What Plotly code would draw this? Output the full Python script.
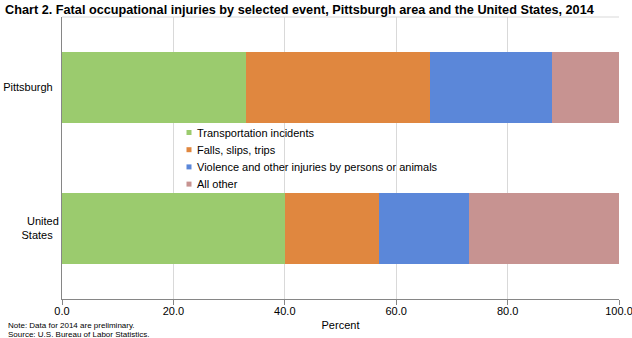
import plotly.graph_objects as go

# Data: share of fatal occupational injuries by event, 2014 (percent)
areas = ["Pittsburgh", "United<br>States"]
events = [
    "Transportation incidents",
    "Falls, slips, trips",
    "Violence and other injuries by persons or animals",
    "All other",
]
pittsburgh = [33.0, 33.0, 22.0, 12.0]
united_states = [40.0, 17.0, 16.0, 27.0]
colors = ["#9BCB6E", "#E0873F", "#5B87D9", "#C79391"]
tick_vals = [0, 20, 40, 60, 80, 100]
notes = ["Note: Data for 2014 are preliminary.", "Source: U.S. Bureau of Labor Statistics."]

W, H = 632, 338
L, R, T, B = 62, 13, 17, 39
plot_w, plot_h = W - L - R, H - T - B


def px_x(px):
    return (px - L) / plot_w


def px_y(py):
    return (H - B - py) / plot_h


fig = go.Figure()
for i, ev in enumerate(events):
    fig.add_trace(go.Bar(
        y=areas,
        x=[pittsburgh[i], united_states[i]],
        name=ev,
        orientation="h",
        marker=dict(color=colors[i], line=dict(width=0)),
        width=0.5,
        showlegend=False,
        hovertemplate="%{y}: %{x:.1f}%<extra>" + ev + "</extra>",
    ))

# Compact legend: small square swatch followed by the label
shapes = [
    dict(type="line", xref="paper", yref="paper", x0=0, x1=1, y0=1, y1=1,
         line=dict(color="#D9D9D9", width=1)),
]
annotations = []
row0, row_step = 132.5, 17.2
for i, ev in enumerate(events):
    cy = row0 + i * row_step
    shapes.append(dict(
        type="rect", xref="paper", yref="paper",
        x0=px_x(186.5), x1=px_x(191.5), y0=px_y(cy + 2.5), y1=px_y(cy - 2.5),
        fillcolor=colors[i], line=dict(width=0), layer="above",
    ))
    annotations.append(dict(
        text=ev, xref="paper", yref="paper", x=px_x(195), y=px_y(cy),
        xanchor="left", yanchor="middle", showarrow=False,
        font=dict(size=11, color="#000000"),
    ))

for j, line in enumerate(notes):
    annotations.append(dict(
        text=line, xref="paper", yref="paper", x=px_x(6), y=px_y(325.5 + j * 8.5),
        xanchor="left", yanchor="middle", showarrow=False,
        font=dict(family="Liberation Sans Narrow, Arial Narrow, sans-serif", size=8, color="#000000"),
    ))

fig.update_layout(
    barmode="stack",
    width=W,
    height=H,
    margin=dict(l=L, r=R, t=T, b=B, autoexpand=False),
    paper_bgcolor="white",
    plot_bgcolor="white",
    font=dict(family="Liberation Sans, Arial, sans-serif", size=11, color="#000000"),
    title=dict(
        text="<b>Chart 2. Fatal occupational injuries by selected event, Pittsburgh area and the United States, 2014</b>",
        x=0.008, xanchor="left", y=0.985, yanchor="top",
        font=dict(family="Liberation Sans Narrow, Arial Narrow, sans-serif", size=12.7, color="#000000"),
    ),
    showlegend=False,
    xaxis=dict(
        range=[0, 100],
        tickvals=tick_vals,
        ticktext=[f"{v:.1f}" for v in tick_vals],
        showgrid=True,
        gridcolor="#D9D9D9",
        gridwidth=1,
        zeroline=False,
        showline=True,
        linecolor="#868686",
        ticks="outside",
        ticklen=5,
        tickcolor="#868686",
        ticklabelstandoff=-3,
        ticklabeloverflow="allow",
        automargin=False,
        title=dict(text="Percent", standoff=5, font=dict(size=11)),
        fixedrange=True,
    ),
    yaxis=dict(
        autorange="reversed",
        showline=True,
        linecolor="#868686",
        ticks="",
        showgrid=False,
        zeroline=False,
        ticksuffix="  ",
        automargin=False,
        fixedrange=True,
    ),
    shapes=shapes,
    annotations=annotations,
)

fig.write_html("out.html")
